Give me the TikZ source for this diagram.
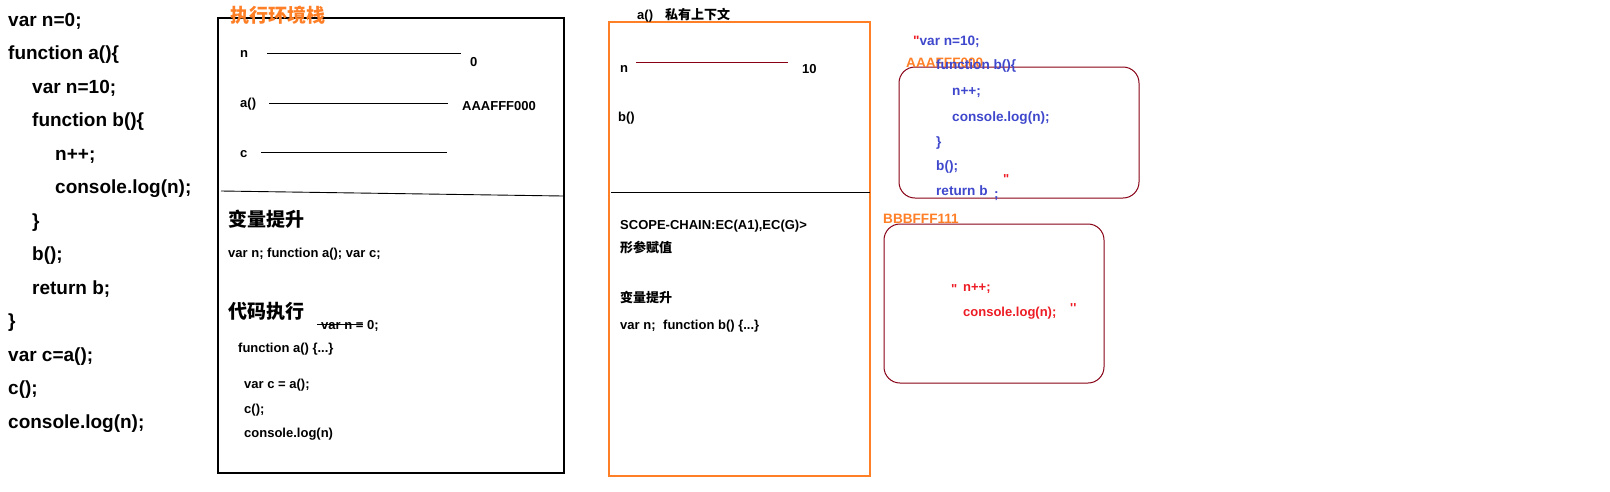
\documentclass[tikz,border=0pt]{standalone}
\usepackage{fontspec}
\setmainfont{Liberation Sans}[Ligatures=TeXOff]
\newfontfamily\cjk{Noto Sans CJK SC}
\definecolor{orng}{RGB}{255,127,39}
\definecolor{dred}{RGB}{136,0,21}
\definecolor{blu}{RGB}{63,72,204}
\definecolor{rd}{RGB}{237,28,36}
\newcommand{\dq}{\char34}
\newcommand{\sq}{\char39}
\begin{document}
\begin{tikzpicture}[x=1pt,y=-1pt,
  every node/.style={inner sep=0pt,anchor=west,text height=0.95em,text depth=0em,yshift=-1.5pt},
  big/.style={font=\fontsize{19}{19}\selectfont\bfseries},
  small/.style={font=\fontsize{13}{13}\selectfont\bfseries},
  mid/.style={font=\fontsize{13.6}{14}\selectfont\bfseries},
  box/.style={line width=1.1pt},
  rbox/.style={draw=dred,line width=1pt,rounded corners=16pt},
  lnk/.style={line width=0.9pt}]
\useasboundingbox[fill=white] (0,0) rectangle (1610,491);

% left code
\node[big] (l1) at (8,20) {var n=0;};
\node[big] (l2) at (8,53.5) {function a()\{};
\node[big] (l3) at (32,87) {var n=10;};
\node[big] (l4) at (32,120.5) {function b()\{};
\node[big] (l5) at (55,154) {n++;};
\node[big] (l6) at (55,187.5) {console.log(n);};
\node[big] (l7) at (32,221) {\}};
\node[big] (l8) at (32,254.5) {b();};
\node[big] (l9) at (32,288) {return b;};
\node[big] (l10) at (8,321.5) {\}};
\node[big] (l11) at (8,355) {var c=a();};
\node[big] (l12) at (8,388.5) {c();};
\node[big] (l13) at (8,422) {console.log(n);};

% box 1: execution stack
\draw[box] (218,18) rectangle (564,473);
\node[big,text=orng] (t1) at (230,16) {\cjk\bfseries 执行环境栈};
\draw[lnk] (221,191) -- (563,196);
\node[small] (vn) at (240,51) {n};
\draw[lnk] (267,53) -- (461,53);
\node[small] (v0) at (470,60) {0};
\node[small] (va) at (240,101) {a()};
\draw[lnk] (269,103) -- (448,103);
\node[small] (vaddr) at (462,104) {AAAFFF000};
\node[small] (vc) at (240,151) {c};
\draw[lnk] (261,152) -- (447,152);

\node[big] (h1) at (228,220) {\cjk\bfseries 变量提升};
\node[small] (h1a) at (228,251) {var n; function a(); var c;};
\node[big] (h2) at (228,312) {\cjk\bfseries 代码执行};
\node[small] (e1) at (321,323) {var n = 0;};
\draw[lnk] (317,324) -- (363,324);
\node[small] (e2) at (238,346) {function a() \{...\}};
\node[small] (e3) at (244,382) {var c = a();};
\node[small] (e4) at (244,407) {c();};
\node[small] (e5) at (244,431) {console.log(n)};

% box 2: private context of a()
\draw[box,draw=orng] (609,22) rectangle (870,476);
\node[small] (t2) at (637,13) {a()\hspace{12pt}{\cjk\bfseries 私有上下文}};
\node[small] (pn) at (620,66) {n};
\draw[lnk,draw=dred] (636,62) -- (788,62);
\node[small] (p10) at (802,67) {10};
\node[small] (pb) at (618,115) {b()};
\draw[lnk] (611,192) -- (870,192);
\node[small] (s1) at (620,223) {SCOPE-CHAIN:EC(A1),EC(G)>};
\node[small] (s2) at (620,246) {\cjk\bfseries 形参赋值};
\node[small] (s3) at (620,296) {\cjk\bfseries 变量提升};
\node[small] (s4) at (620,323) {var n;\hspace{4pt} function b() \{...\}};

% heap object AAAFFF000
\draw[rbox] (899,67) rectangle (1139,198);
\node[mid] (f1) at (913,39) {\textcolor{rd}{\dq}\textcolor{blu}{var n=10;}};
\node[mid,text=orng] (f0) at (906,61) {AAAFFF000};
\node[mid,text=blu] (f2) at (936,63) {function b()\{};
\node[mid,text=blu] (f3) at (952,89) {n++;};
\node[mid,text=blu] (f4) at (952,115) {console.log(n);};
\node[mid,text=blu] (f5) at (936,140) {\}};
\node[mid,text=blu] (f6) at (936,164) {b();};
\node[mid,text=blu] (f7) at (936,189) {return b};
\node[mid,text=blu] (f8) at (994,192) {;};
\node[small,text=rd] (f9) at (1003,177) {\dq};

% heap object BBBFFF111
\node[mid,text=orng] (g0) at (883,217) {BBBFFF111};
\draw[rbox] (884,224) rectangle (1104,383);
\node[small,text=rd] (g1) at (951,287) {\dq};
\node[small,text=rd] (g2) at (963,285) {n++;};
\node[small,text=rd] (g3) at (963,310) {console.log(n);};
\node[small,text=rd] (g4) at (1070,306) {\sq\sq};
\end{tikzpicture}
\end{document}
